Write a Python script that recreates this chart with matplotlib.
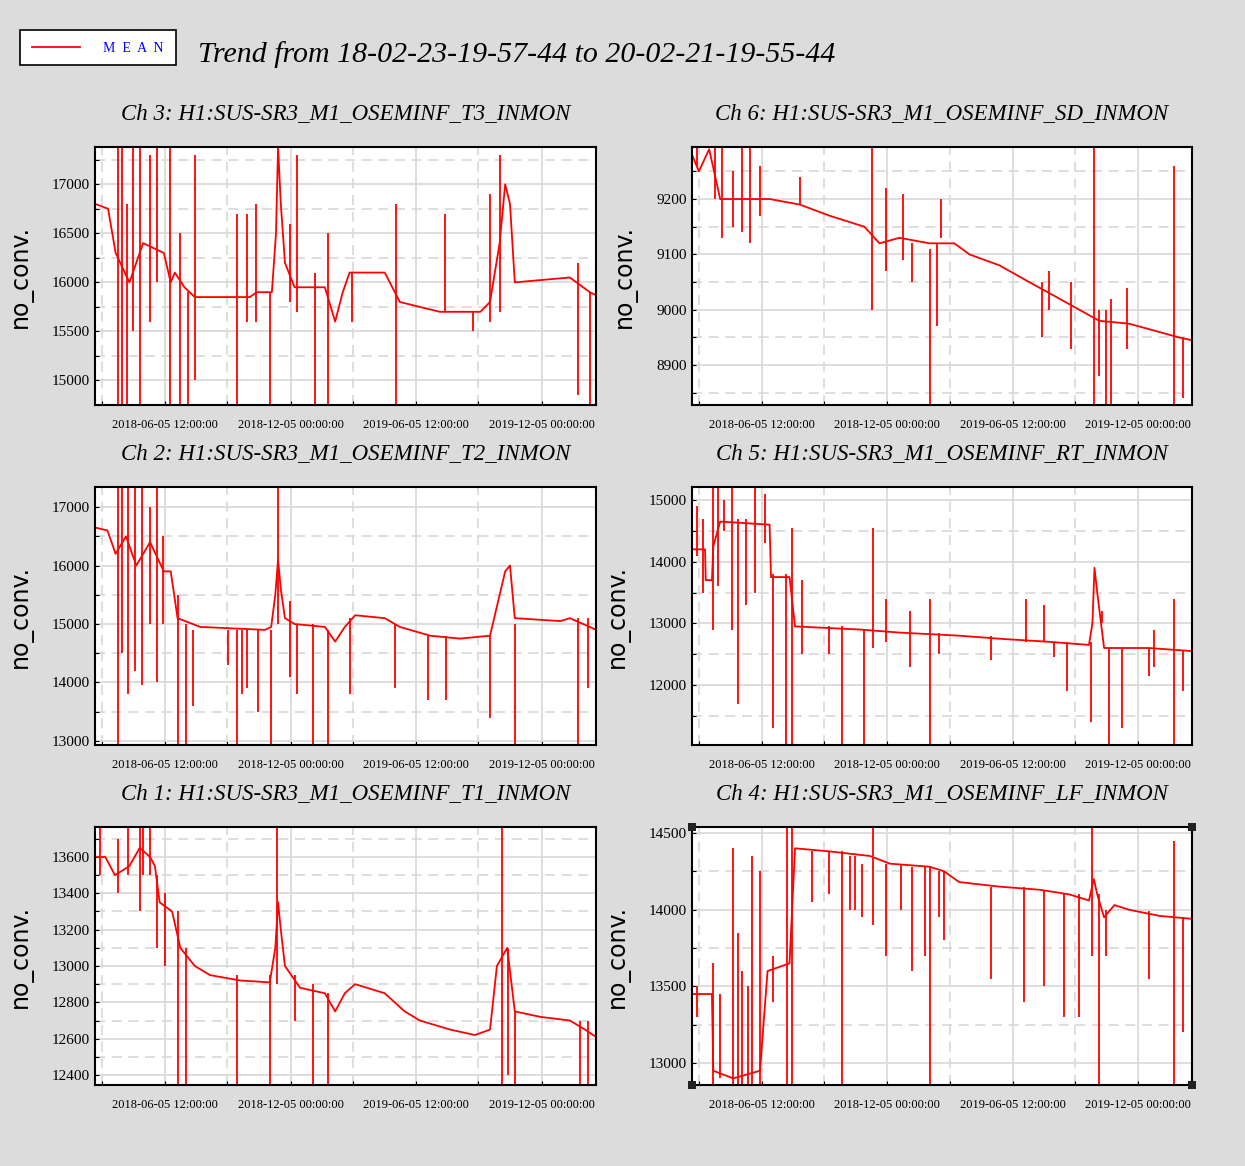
"""Six-channel OSEM trend plot (H1 SUS-SR3 M1), mean values."""

import datetime as dt

import matplotlib
matplotlib.use("Agg")
import matplotlib.dates as mdates
import matplotlib.pyplot as plt
from matplotlib.patches import Rectangle
from matplotlib.lines import Line2D
from matplotlib.ticker import MultipleLocator, FixedLocator

START = dt.datetime(2018, 2, 23, 19, 57, 44)
END = dt.datetime(2020, 2, 21, 19, 55, 44)

# Baselines: (day offset, value); spikes: (day offset, low, high)
ch3_base = [(0, 16800), (8, 16780), (19, 16750), (30, 16300), (50, 16000), (70, 16400),
            (100, 16300), (110, 16000), (116, 16100), (130, 15950), (145, 15850), (225, 15850),
            (235, 15900), (257, 15900), (263, 16500), (266, 17380), (270, 16800), (276, 16200),
            (290, 15950), (334, 15950), (349, 15600), (360, 15900), (370, 16100), (421, 16100),
            (443, 15800), (472, 15750), (501, 15700), (560, 15700), (574, 15800), (588, 16400),
            (596, 17000), (603, 16800), (610, 16000), (690, 16050), (719, 15900), (728, 15870)]
ch3_spikes = [(33, 14750, 17380), (39, 14750, 17380), (46, 14750, 16800), (55, 15500, 17380),
              (65, 14750, 17380), (80, 15600, 17300), (90, 16000, 17380), (109, 14750, 17380),
              (124, 14750, 16500), (135, 14750, 15900), (145, 15000, 17300), (206, 14750, 16700),
              (221, 15600, 16700), (234, 15600, 16800), (254, 14750, 15900), (283, 15800, 16600),
              (293, 15700, 17300), (320, 14750, 16100), (339, 14750, 16500), (373, 15600, 16100),
              (437, 14750, 16800), (509, 15700, 16700), (549, 15500, 15700), (574, 15600, 16900),
              (588, 15700, 17300), (702, 14850, 16200), (719, 14750, 15900)]

ch6_base = [(0, 9280), (10, 9250), (25, 9290), (41, 9200), (113, 9200), (157, 9190),
            (200, 9170), (251, 9150), (273, 9120), (302, 9130), (346, 9120), (382, 9120),
            (404, 9100), (448, 9080), (491, 9050), (535, 9020), (564, 9000), (593, 8980),
            (636, 8975), (680, 8960), (709, 8950), (728, 8945)]
ch6_spikes = [(7, 9260, 9294), (33, 9200, 9294), (44, 9130, 9294), (60, 9150, 9250),
              (73, 9140, 9294), (84, 9120, 9294), (99, 9170, 9260), (157, 9190, 9240),
              (262, 9000, 9294), (283, 9070, 9220), (307, 9090, 9210), (320, 9050, 9120),
              (347, 8828, 9110), (357, 8970, 9120), (363, 9130, 9200), (509, 8950, 9050),
              (520, 9000, 9070), (552, 8930, 9050), (586, 8828, 9294), (593, 8880, 9000),
              (603, 8828, 9000), (610, 8828, 9020), (634, 8930, 9040), (702, 8828, 9260),
              (715, 8840, 8950)]

ch2_base = [(0, 16650), (18, 16600), (30, 16200), (45, 16500), (60, 16000), (80, 16400),
            (100, 15900), (110, 15900), (120, 15100), (153, 14950), (247, 14900), (256, 14950),
            (262, 15500), (266, 16100), (270, 15600), (276, 15100), (290, 15000), (334, 14950),
            (349, 14700), (363, 14950), (378, 15150), (421, 15100), (443, 14950), (487, 14800),
            (530, 14750), (574, 14800), (588, 15500), (596, 15900), (603, 16000), (610, 15100),
            (676, 15050), (690, 15100), (719, 14950), (728, 14900)]
ch2_spikes = [(33, 12931, 17343), (39, 14500, 17343), (48, 13800, 17343), (58, 14200, 17343),
              (68, 13950, 17343), (80, 15000, 17000), (90, 14000, 17343), (99, 15000, 16500),
              (120, 12931, 15500), (132, 12931, 15000), (142, 13600, 14900), (193, 14300, 14900),
              (206, 12931, 14900), (214, 13800, 14900), (221, 13900, 14900), (237, 13500, 14900),
              (256, 12931, 14900), (266, 15000, 17343), (283, 14100, 15400), (293, 13800, 15000),
              (317, 12931, 15000), (339, 12931, 14900), (371, 13800, 15100), (436, 13900, 15000),
              (484, 13700, 14800), (510, 13700, 14800), (574, 13400, 14800), (610, 12931, 15000),
              (702, 12931, 15100), (716, 13900, 15100)]

ch5_base = [(0, 14200), (19, 14200), (20, 13700), (29, 13700), (31, 14250), (41, 14650),
            (113, 14600), (115, 13750), (142, 13750), (150, 12950), (244, 12900), (302, 12850),
            (389, 12800), (448, 12750), (520, 12700), (578, 12650), (583, 13000), (586, 13900),
            (590, 13500), (600, 12600), (665, 12600), (728, 12550)]
ch5_spikes = [(7, 14100, 14900), (16, 13500, 14700), (31, 12900, 15211), (38, 13600, 15211),
              (46, 14500, 15000), (58, 12900, 15211), (67, 11700, 14700), (78, 13300, 14700),
              (92, 13500, 15211), (106, 14300, 15100), (118, 11300, 13800), (137, 11027, 13800),
              (145, 11027, 14550), (160, 12500, 13700), (200, 12500, 12950), (219, 11027, 12950),
              (251, 11027, 12900), (264, 12600, 14550), (283, 12700, 13400), (317, 12300, 13200),
              (346, 11027, 13400), (360, 12500, 12850), (436, 12400, 12800), (487, 12700, 13400),
              (513, 12700, 13300), (527, 12450, 12700), (546, 11900, 12700), (581, 11400, 12700),
              (597, 13000, 13200), (607, 11027, 12600), (626, 11300, 12600), (665, 12150, 12600),
              (673, 12300, 12900), (702, 11027, 13400), (715, 11900, 12550)]

ch1_base = [(0, 13600), (15, 13600), (29, 13500), (50, 13550), (65, 13650), (80, 13600),
            (87, 13550), (94, 13350), (112, 13300), (124, 13100), (145, 13000), (167, 12950),
            (211, 12920), (254, 12910), (262, 13100), (266, 13350), (270, 13200), (276, 13000),
            (298, 12880), (334, 12850), (349, 12750), (363, 12850), (378, 12900), (421, 12850),
            (450, 12750), (472, 12700), (516, 12650), (552, 12620), (574, 12650), (584, 13000),
            (599, 13100), (610, 12750), (647, 12720), (690, 12700), (712, 12650), (728, 12610)]
ch1_spikes = [(7, 13500, 13765), (33, 13400, 13700), (48, 13500, 13765), (65, 13300, 13765),
              (70, 13500, 13765), (80, 13500, 13765), (90, 13100, 13500), (102, 13000, 13400),
              (120, 12345, 13300), (132, 12345, 13100), (206, 12345, 12950), (254, 12345, 12950),
              (265, 12900, 13765), (291, 12700, 12950), (317, 12345, 12900), (339, 12345, 12850),
              (591, 12345, 13765), (600, 12400, 13100), (610, 12345, 12750), (705, 12345, 12700),
              (716, 12345, 12700)]

ch4_base = [(0, 13450), (29, 13450), (31, 12950), (60, 12900), (99, 12950), (110, 13600),
            (142, 13650), (150, 14400), (200, 14380), (259, 14350), (288, 14300), (346, 14280),
            (367, 14250), (389, 14180), (448, 14150), (506, 14130), (549, 14100), (578, 14060),
            (585, 14200), (590, 14100), (600, 13950), (615, 14030), (636, 14000), (680, 13960),
            (728, 13940)]
ch4_spikes = [(7, 13300, 13500), (31, 12857, 13650), (41, 12900, 13450), (60, 12857, 14400),
              (67, 12857, 13850), (73, 12857, 13600), (81, 12857, 13500), (87, 12857, 14350),
              (99, 12857, 14250), (118, 13400, 13700), (138, 12857, 14539), (145, 12857, 14539),
              (174, 14050, 14380), (200, 14100, 14380), (219, 12857, 14380), (230, 14000, 14350),
              (238, 14000, 14350), (247, 13950, 14300), (264, 13900, 14539), (283, 13700, 14300),
              (305, 14000, 14300), (320, 13600, 14280), (339, 13700, 14280), (346, 12857, 14280),
              (360, 13950, 14250), (367, 13800, 14250), (436, 13550, 14150), (484, 13400, 14150),
              (513, 13500, 14130), (542, 13300, 14100), (564, 13300, 14100), (583, 13700, 14539),
              (593, 12857, 14100), (603, 13700, 14000), (665, 13550, 13990), (702, 12857, 14450),
              (715, 13200, 13950)]

# (title, base, spikes, ylim, major step, axes rect in pixels: left, top, right, bottom)
PANELS = [
    ("Ch 3: H1:SUS-SR3_M1_OSEMINF_T3_INMON", ch3_base, ch3_spikes, (14750, 17380), 500, (95, 147, 596, 405)),
    ("Ch 6: H1:SUS-SR3_M1_OSEMINF_SD_INMON", ch6_base, ch6_spikes, (8828, 9294), 100, (692, 147, 1192, 405)),
    ("Ch 2: H1:SUS-SR3_M1_OSEMINF_T2_INMON", ch2_base, ch2_spikes, (12931, 17343), 1000, (95, 487, 596, 745)),
    ("Ch 5: H1:SUS-SR3_M1_OSEMINF_RT_INMON", ch5_base, ch5_spikes, (11027, 15211), 1000, (692, 487, 1192, 745)),
    ("Ch 1: H1:SUS-SR3_M1_OSEMINF_T1_INMON", ch1_base, ch1_spikes, (12345, 13765), 200, (95, 827, 596, 1085)),
    ("Ch 4: H1:SUS-SR3_M1_OSEMINF_LF_INMON", ch4_base, ch4_spikes, (12857, 14539), 500, (692, 827, 1192, 1085)),
]

MAJOR = [dt.datetime(2018, 6, 5, 12), dt.datetime(2018, 12, 5), dt.datetime(2019, 6, 5, 12), dt.datetime(2019, 12, 5)]
MINOR = [dt.datetime(2018, 3, 6), dt.datetime(2018, 9, 4), dt.datetime(2019, 3, 6), dt.datetime(2019, 9, 4)]

W, H = 1245, 1166
BG = "#dcdcdc"
SERIF = "Liberation Serif"


def to_dates(days):
    return [START + dt.timedelta(days=d) for d in days]


def main() -> None:
    fig = plt.figure(figsize=(W / 100, H / 100), dpi=100, facecolor=BG)

    for title, base, spikes, ylim, step, (l, t, r, b) in PANELS:
        ax = fig.add_axes([l / W, 1 - b / H, (r - l) / W, (b - t) / H])
        ax.set_facecolor("white")
        bx = to_dates([p[0] for p in base])
        ax.plot(bx, [p[1] for p in base], color="red", lw=1.3)
        ax.vlines(to_dates([s[0] for s in spikes]), [s[1] for s in spikes], [s[2] for s in spikes],
                  color="red", lw=1.3)
        ax.set_xlim(START, END)
        ax.set_ylim(*ylim)

        ax.xaxis.set_major_locator(FixedLocator(mdates.date2num(MAJOR)))
        ax.xaxis.set_minor_locator(FixedLocator(mdates.date2num(MINOR)))
        ax.xaxis.set_major_formatter(mdates.DateFormatter("%Y-%m-%d %H:%M:%S"))
        ax.yaxis.set_major_locator(MultipleLocator(step))
        ax.yaxis.set_minor_locator(MultipleLocator(step / 2))
        ax.grid(which="major", color="#d8d8d8", lw=1.2, ls="-")
        ax.grid(which="minor", color="#d8d8d8", lw=1.2, ls=(0, (6, 4)))
        ax.set_axisbelow(True)
        ax.tick_params(which="both", direction="in", length=3, width=0.8)
        ax.tick_params(axis="x", pad=10)
        for lab in ax.get_xticklabels():
            lab.set_fontfamily(SERIF)
            lab.set_fontsize(9)
        for lab in ax.get_yticklabels():
            lab.set_fontfamily(SERIF)
            lab.set_fontsize(11)
        for sp in ax.spines.values():
            sp.set_linewidth(1.5)
        ax.set_ylabel("no_conv.", fontsize=17, labelpad=14)
        ax.set_title(title, fontfamily=SERIF, style="italic", fontsize=16.5, pad=20)

        if "LF" in title:
            for cx, cy in [(l, t), (r, t), (l, b), (r, b)]:
                fig.patches.append(Rectangle(((cx - 4) / W, 1 - (cy + 4) / H), 8 / W, 8 / H,
                                             transform=fig.transFigure, facecolor="#222222",
                                             edgecolor="none", zorder=10))

    # legend box
    fig.patches.append(Rectangle((20 / W, 1 - 65 / H), 156 / W, 35 / H, transform=fig.transFigure,
                                 facecolor="white", edgecolor="black", lw=1.2))
    fig.lines.append(Line2D([32 / W, 80 / W], [1 - 47 / H] * 2, transform=fig.transFigure,
                            color="red", lw=1.3))
    fig.text(103 / W, 1 - 48 / H, "M  E  A  N", color="blue", fontfamily=SERIF, fontsize=10, va="center")
    fig.text(198 / W, 1 - 55 / H, "Trend from 18-02-23-19-57-44 to 20-02-21-19-55-44",
             fontfamily=SERIF, style="italic", fontsize=21.5, va="center")

    fig.savefig("out.png", dpi=100, facecolor=BG)


if __name__ == "__main__":
    main()
